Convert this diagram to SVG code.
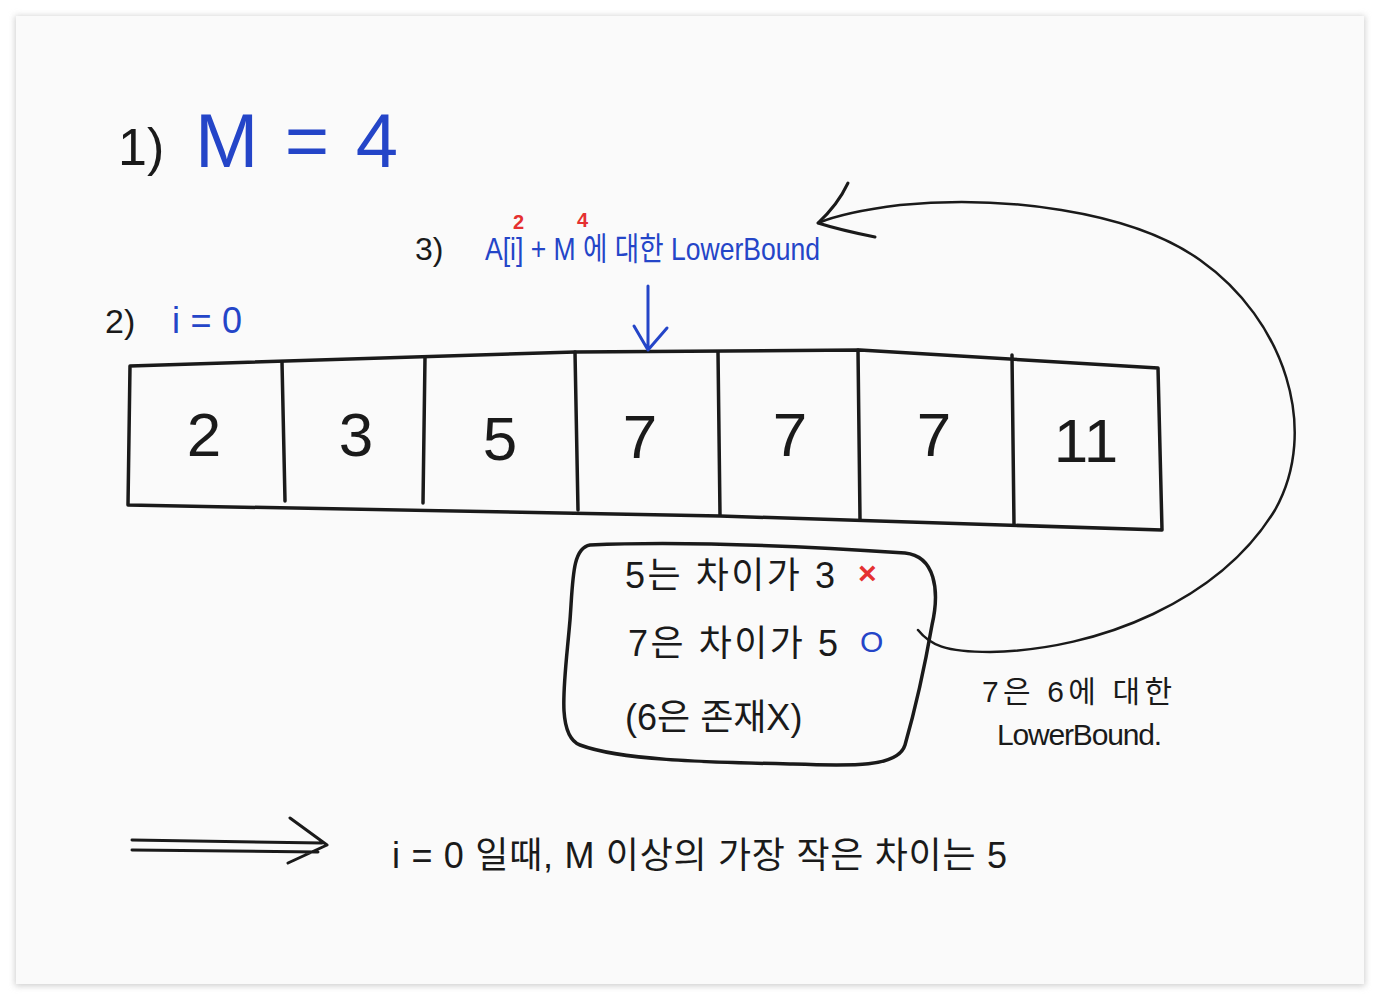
<svg xmlns="http://www.w3.org/2000/svg" width="1380" height="999" viewBox="0 0 1380 999">
<defs>
<filter id="sh" x="-5%" y="-5%" width="110%" height="110%"><feGaussianBlur stdDeviation="3"/></filter>
<style>
.k{fill:none;stroke:#1a1a1a;stroke-width:3.5;stroke-linecap:round;stroke-linejoin:round}
.b{fill:none;stroke:#2445c8;stroke-width:3;stroke-linecap:round;stroke-linejoin:round}
.t{font-family:"Liberation Sans","Noto Sans CJK KR",sans-serif;fill:#1a1a1a}
.tb{font-family:"Liberation Sans","Noto Sans CJK KR",sans-serif;fill:#2445c8}
.tr{font-family:"Liberation Sans","Noto Sans CJK KR",sans-serif;fill:#e53030;font-weight:bold}
.num{font-family:"Liberation Sans",sans-serif;fill:#1a1a1a;font-size:62px;text-anchor:middle}
</style>
</defs>
<rect width="1380" height="999" fill="#ffffff"/>
<rect x="15" y="16" width="1350" height="970" fill="#cfcfcf" filter="url(#sh)"/>
<rect x="16" y="16" width="1348" height="968" fill="#fafafa"/>

<g id="title">
<text class="t" x="118" y="165" font-size="52">1)</text>
<text class="tb" x="195" y="167" font-size="76" textLength="203" lengthAdjust="spacing">M = 4</text>
</g>

<g id="label-i">
<text class="t" x="105" y="333" font-size="34">2)</text>
<text class="tb" x="172" y="333" font-size="36" textLength="70">i=0</text>
</g>

<g id="label-lowerbound">
<text class="t" x="415" y="260" font-size="32">3)</text>
<text class="tb" x="485" y="260" font-size="32" textLength="335" lengthAdjust="spacingAndGlyphs">A[i] + M 에 대한 LowerBound</text>
<text class="tr" x="513" y="229" font-size="20">2</text>
<text class="tr" x="577" y="227" font-size="20">4</text>
</g>

<g id="array">
<path class="k" d="M130,366 L575,352 L860,350 L1158,368 L1162,530 L720,516 L128,505 Z"/>
<path class="k" d="M282,362 L285,501 M425,357 L423,503 M575,352 L578,510 M718,352 L720,515 M858,350 L860,519 M1012,355 L1014,525"/>
<text class="num" x="204" y="456">2</text>
<text class="num" x="356" y="456">3</text>
<text class="num" x="500" y="460">5</text>
<text class="num" x="640" y="458">7</text>
<text class="num" x="790" y="456">7</text>
<text class="num" x="934" y="456">7</text>
<text class="num" x="1086" y="462">11</text>
</g>

<g id="note-box">
<path class="k" d="M590,545 C700,540 830,548 905,553 C935,556 940,590 932,625 C925,665 915,710 905,745 C898,768 850,766 790,764 C700,762 620,760 580,745 C555,735 565,680 570,620 C573,580 572,548 590,545 Z"/>
<text class="t" x="625" y="588" font-size="36" textLength="210">5는 차이가 3</text>
<text class="tr" x="858" y="584" font-size="32">×</text>
<text class="t" x="628" y="656" font-size="36" textLength="210">7은 차이가 5</text>
<text class="tb" x="860" y="652" font-size="30">O</text>
<text class="t" x="625" y="730" font-size="36">(6은 존재X)</text>
</g>

<g id="side-note">
<text class="t" x="982" y="702" font-size="30" textLength="190">7은 6에 대한</text>
<text class="t" x="997" y="745" font-size="30" textLength="165">LowerBound.</text>
</g>

<g id="conclusion">
<text class="t" x="392" y="868" font-size="36" textLength="615">i = 0 일때, M 이상의 가장 작은 차이는 5</text>
</g>

<g id="connectors">
<path class="b" d="M648,286 L648,350 M634,326 L648,350 L667,328"/>
<path class="k" style="stroke-width:2.5" d="M918,630 C930,645 945,652 990,652 C1100,650 1220,600 1275,510 C1320,430 1285,320 1200,260 C1130,210 1000,195 900,205 C860,210 835,216 818,223"/>
<path class="k" style="stroke-width:3" d="M848,183 C840,200 830,212 818,223 C840,230 860,234 875,237"/>
<path class="k" style="stroke-width:3" d="M132,840 L322,843 M132,850 L318,852 M290,818 L327,845 L288,863"/>
</g>
</svg>
